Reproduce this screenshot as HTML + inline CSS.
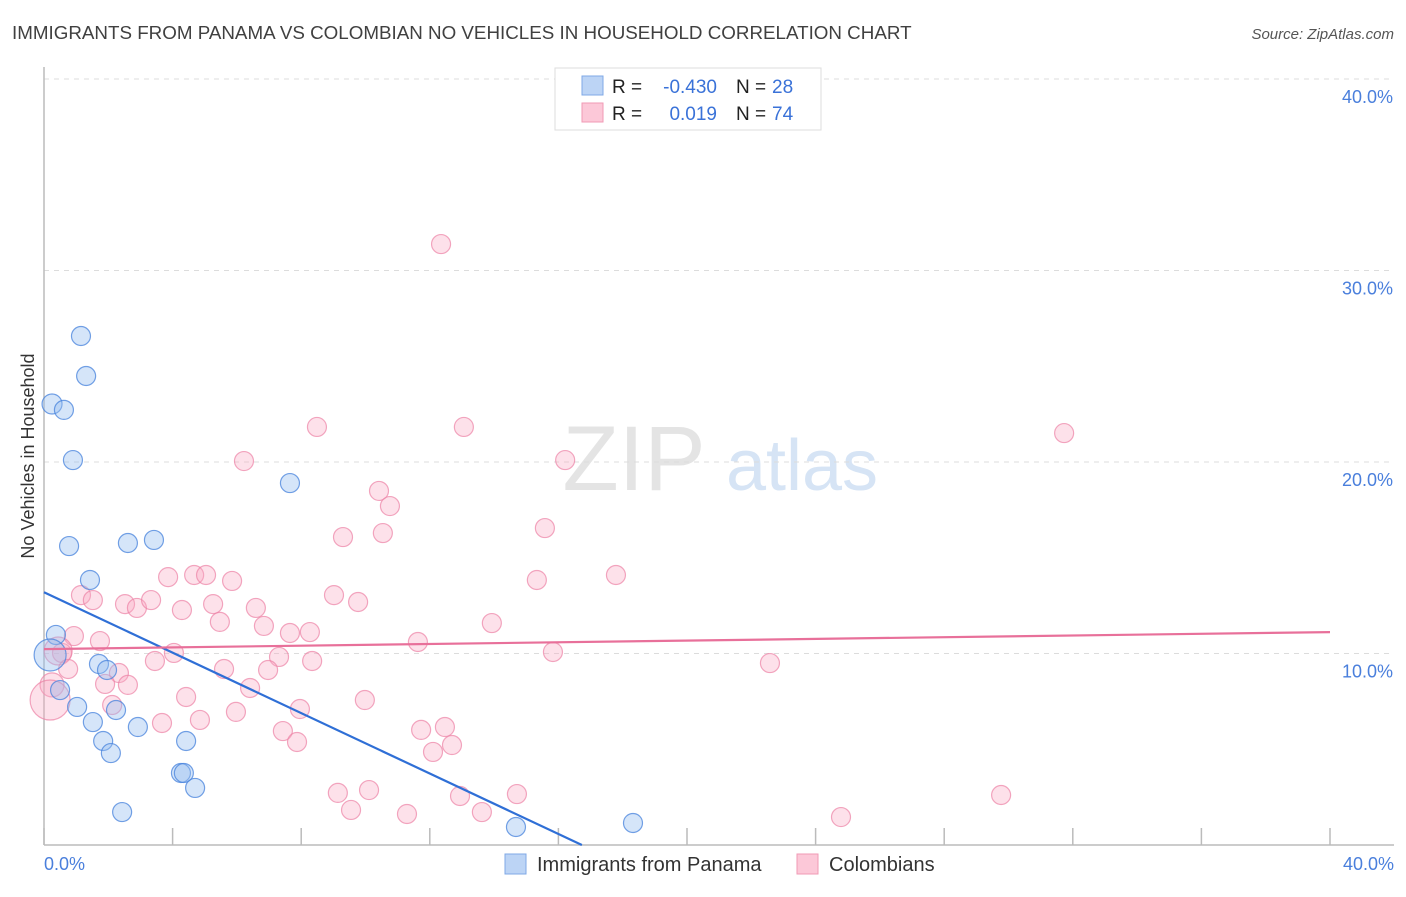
<!DOCTYPE html>
<html><head><meta charset="utf-8">
<style>
body{margin:0;background:#fff;font-family:"Liberation Sans",sans-serif;}
svg text{font-family:"Liberation Sans",sans-serif;}
</style></head>
<body>
<svg id="chart" width="1406" height="892" viewBox="0 0 1406 892" xmlns="http://www.w3.org/2000/svg">
<text x="12" y="39" font-size="18.8" fill="#404040">IMMIGRANTS FROM PANAMA VS COLOMBIAN NO VEHICLES IN HOUSEHOLD CORRELATION CHART</text>
<text x="1394" y="39" font-size="15" fill="#555" text-anchor="end" font-style="italic">Source: ZipAtlas.com</text>
<g>
<text x="634" y="490" font-size="92" fill="#e4e4e4" text-anchor="middle" font-family="Liberation Serif,serif">ZIP</text>
<text x="802" y="490" font-size="72" fill="#d6e4f5" text-anchor="middle">atlas</text>
</g>
<g id="grid"></g>
<g id="axes"></g>
<g id="pinkpts"></g>
<g id="bluepts"></g>
<g id="lines"></g>
<text transform="translate(34,456) rotate(-90)" font-size="18" fill="#333" text-anchor="middle">No Vehicles in Household</text>
<text x="44" y="870" font-size="18" fill="#4a7fdc">0.0%</text>
<text x="1394" y="870" font-size="18" fill="#4a7fdc" text-anchor="end">40.0%</text>
<g>
<rect x="555" y="68" width="266" height="62" fill="#fff" stroke="#ddd"/>
<rect x="582" y="76" width="21" height="19" fill="#bcd4f5" stroke="#7fa8e6"/>
<rect x="582" y="103" width="21" height="19" fill="#fcc8d8" stroke="#f09ab5"/>
<text x="612" y="93" font-size="19" fill="#222">R =</text>
<text x="717" y="93" font-size="19" fill="#3a72d8" text-anchor="end">-0.430</text>
<text x="736" y="93" font-size="19" fill="#222">N =</text>
<text x="772" y="93" font-size="19" fill="#3a72d8">28</text>
<text x="612" y="120" font-size="19" fill="#222">R =</text>
<text x="717" y="120" font-size="19" fill="#3a72d8" text-anchor="end">0.019</text>
<text x="736" y="120" font-size="19" fill="#222">N =</text>
<text x="772" y="120" font-size="19" fill="#3a72d8">74</text>
</g>
<g>
<rect x="505" y="854" width="21" height="20" fill="#bcd4f5" stroke="#7fa8e6"/>
<text x="537" y="871" font-size="20" fill="#333">Immigrants from Panama</text>
<rect x="797" y="854" width="21" height="20" fill="#fcc8d8" stroke="#f09ab5"/>
<text x="829" y="871" font-size="20" fill="#333">Colombians</text>
</g>
</svg>
<script>
const yTicks=[10,20,30,40];
const yTickLabels=["10.0%","20.0%","30.0%","40.0%"];
const xTicks=[0,4,8,12,16,20,24,28,32,36,40];
const blueX=[1.15,1.31,0.25,0.62,0.90,7.65,0.78,2.61,3.42,1.43,0.37,0.19,0.5,1.03,1.71,1.96,2.24,1.52,1.84,2.08,2.92,4.42,4.26,4.35,4.7,2.43,14.68,18.32];
const blueY=[26.58,24.49,23.03,22.72,20.1,18.9,15.61,15.77,15.93,13.84,10.97,9.92,8.09,7.21,9.45,9.14,7.05,6.42,5.43,4.8,6.16,5.43,3.76,3.76,2.98,1.72,0.94,1.15];
const blueR=[9.5,9.5,10,9.5,9.5,9.5,9.5,9.5,9.5,9.5,9.5,16,9.5,9.5,9.5,9.5,9.5,9.5,9.5,9.5,9.5,9.5,9.5,9.5,9.5,9.5,9.5,9.5];
const pinkX=[12.35,8.49,13.06,31.73,6.22,16.21,10.42,10.76,15.58,9.30,10.54,3.86,4.67,5.04,5.85,15.33,17.79,1.15,1.52,2.52,2.89,3.33,4.29,5.26,6.59,9.02,9.77,5.47,6.84,13.93,7.65,8.27,0.93,1.74,11.63,0.56,0.44,4.04,3.45,15.83,7.31,8.34,22.58,0.75,2.33,5.6,6.97,6.41,1.9,2.61,0.25,0.19,4.42,9.98,2.12,5.97,7.96,4.85,3.67,7.43,11.73,12.47,7.87,12.69,12.1,9.14,10.11,12.94,14.71,29.77,9.55,11.29,13.62,24.79];
const pinkY=[31.38,21.83,21.83,21.51,20.05,20.1,18.49,17.7,16.55,16.08,16.29,13.99,14.1,14.1,13.79,13.84,14.1,13.05,12.79,12.58,12.38,12.79,12.27,12.58,12.38,13.05,12.69,11.65,11.44,11.59,11.07,11.12,10.91,10.65,10.6,10.03,10.13,10.03,9.61,10.08,9.82,9.61,9.5,9.19,8.98,9.19,9.14,8.2,8.41,8.36,8.36,7.57,7.73,7.57,7.31,6.95,7.1,6.53,6.37,5.95,6.01,6.16,5.38,5.22,4.86,2.72,2.87,2.56,2.66,2.61,1.83,1.62,1.72,1.46];
const pinkBig={36:14,50:12,51:20};
const blueTrend=[13.2,-0.789];
const pinkTrend=[10.23,0.0222];
const X0=44,X1=1330,Y0=845,Y1=79;
function sx(v){return X0+(X1-X0)*v/40;}
function sy(v){return Y0-(Y0-Y1)*v/40;}
const NS="http://www.w3.org/2000/svg";
function mk(tag,attrs,parent){const e=document.createElementNS(NS,tag);for(const k in attrs)e.setAttribute(k,attrs[k]);parent.appendChild(e);return e;}
const grid=document.getElementById('grid'),axes=document.getElementById('axes');
yTicks.forEach((t,i)=>{
  const l=mk('line',{x1:X0,x2:1394,y1:sy(t),y2:sy(t),stroke:'#dcdcdc','stroke-dasharray':'5,5'},grid);
  
  
  const tx=mk('text',{x:1393,y:sy(t)+24,'font-size':18,fill:'#4a7fdc','text-anchor':'end'},grid);
  tx.textContent=yTickLabels[i];
  
  
});
let a=mk('line',{x1:X0,x2:X0,y1:67,y2:Y0,stroke:'#bbb','stroke-width':1.5},axes);


a=mk('line',{x1:X0,x2:1394,y1:Y0,y2:Y0,stroke:'#bbb','stroke-width':1.5},axes);


xTicks.forEach(t=>{const l=mk('line',{x1:sx(t),x2:sx(t),y1:828,y2:Y0,stroke:'#bbb','stroke-width':1.5},axes);
  
  });
const pg=document.getElementById('pinkpts');
pinkX.forEach((x,i)=>{const c=mk('circle',{cx:sx(x),cy:sy(pinkY[i]),r:pinkBig[i]||9.5,fill:'rgba(248,170,195,0.35)',stroke:'rgba(236,130,165,0.7)','stroke-width':1.2},pg);
  
  });
const bg=document.getElementById('bluepts');
blueX.forEach((x,i)=>{const c=mk('circle',{cx:sx(x),cy:sy(blueY[i]),r:blueR[i],fill:'rgba(150,190,240,0.4)',stroke:'rgba(70,130,220,0.75)','stroke-width':1.2},bg);
  
  });
const lg=document.getElementById('lines');
const bEnd=-blueTrend[0]/blueTrend[1];
let ln=mk('line',{x1:sx(0),y1:sy(blueTrend[0]),x2:sx(bEnd),y2:sy(0),stroke:'#2f6fd6','stroke-width':2.2},lg);


ln=mk('line',{x1:sx(0),y1:sy(pinkTrend[0]),x2:sx(40),y2:sy(pinkTrend[0]+pinkTrend[1]*40),stroke:'#e8709a','stroke-width':2.2},lg);


</script>
</body></html>
